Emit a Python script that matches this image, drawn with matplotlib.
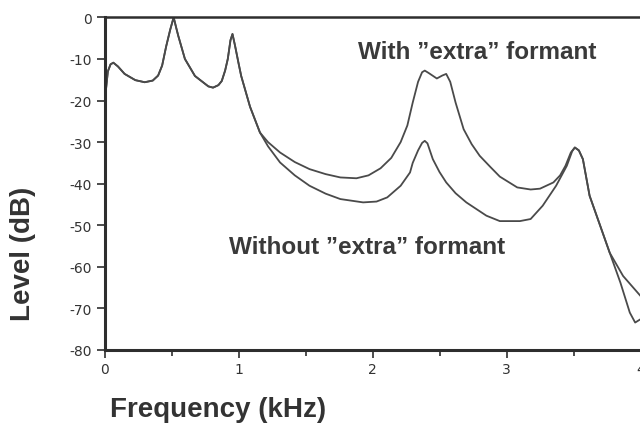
import numpy as np
import matplotlib
matplotlib.use('Agg')
from matplotlib import pyplot as plt

plt.rcParams['font.family'] = ['Liberation Sans', 'DejaVu Sans']
plt.rcParams['axes.unicode_minus'] = False

# shared low-frequency part of both spectra (kHz, dB)
shared_freq = [0.0, 0.012, 0.025, 0.045, 0.066, 0.10, 0.15, 0.23, 0.30, 0.36, 0.40,
               0.43, 0.46, 0.49, 0.516, 0.535, 0.55, 0.60, 0.675, 0.775, 0.81,
               0.85, 0.875, 0.90, 0.92, 0.94, 0.955, 0.974, 1.0, 1.02, 1.086, 1.16]
shared_level = [-20.5, -17.0, -13.0, -11.3, -10.9, -11.8, -13.6, -15.1, -15.6, -15.2, -14.0,
                -11.6, -7.0, -3.0, 0.0, -2.5, -4.4, -10.0, -14.1, -16.6, -16.9,
                -16.3, -15.3, -12.8, -10.0, -5.5, -4.0, -6.8, -11.0, -14.1, -21.5, -27.7]

with_freq = [1.22, 1.31, 1.42, 1.53, 1.65, 1.76, 1.88, 1.97, 2.06, 2.14, 2.21, 2.26,
             2.30, 2.34, 2.37, 2.39, 2.42, 2.48, 2.52, 2.55, 2.58, 2.62, 2.68, 2.74,
             2.80, 2.88, 2.95, 3.08, 3.18, 3.25, 3.35, 3.40, 3.44, 3.48, 3.51, 3.54,
             3.57, 3.62, 3.70, 3.77, 3.87, 4.0]
with_level = [-30.0, -32.5, -34.8, -36.5, -37.7, -38.5, -38.7, -38.0, -36.3, -33.8, -30.0, -26.0,
              -20.5, -15.5, -13.2, -12.8, -13.4, -14.7, -14.0, -13.6, -15.5, -20.5, -26.9, -30.5,
              -33.3, -36.0, -38.3, -40.9, -41.4, -41.2, -39.7, -38.0, -35.7, -32.5, -31.3, -32.0,
              -34.1, -42.9, -50.2, -56.6, -62.2, -67.0]

without_freq = [1.22, 1.31, 1.42, 1.53, 1.65, 1.76, 1.93, 2.03, 2.11, 2.21, 2.28, 2.30,
                2.34, 2.37, 2.39, 2.41, 2.45, 2.50, 2.55, 2.62, 2.70, 2.85, 2.95, 3.10,
                3.18, 3.27, 3.37, 3.45, 3.49, 3.51, 3.54, 3.57, 3.62, 3.70, 3.77, 3.85,
                3.92, 3.96, 4.0]
without_level = [-31.0, -34.9, -38.0, -40.5, -42.4, -43.7, -44.5, -44.3, -43.3, -40.5, -37.3, -35.0,
                 -32.0, -30.2, -29.7, -30.3, -34.1, -37.2, -39.7, -42.3, -44.5, -47.7, -49.0, -49.0,
                 -48.5, -45.3, -40.5, -35.7, -32.2, -31.3, -32.0, -34.1, -42.9, -50.2, -56.6, -63.8,
                 -71.0, -73.4, -72.6]

y_ticks = [0, -10, -20, -30, -40, -50, -60, -70, -80]
x_ticks = [0, 1, 2, 3, 4]


def main():
    fig = plt.figure(figsize=(6.4, 4.27), dpi=100)
    ax = fig.add_axes([0.1633, 0.178, 0.8375, 0.779])

    line_col = '#4a4a4a'
    ax.plot(shared_freq + with_freq, shared_level + with_level, color=line_col, lw=1.3)
    ax.plot(shared_freq + without_freq, shared_level + without_level, color=line_col, lw=1.3)

    ax.set_xlim(0, 4)
    ax.set_ylim(-80, 0)
    ax.set_xticks(x_ticks)
    ax.set_xticks([0.5, 1.5, 2.5, 3.5], minor=True)
    ax.set_yticks(y_ticks)
    ax.set_xticklabels([str(t) for t in x_ticks], family='DejaVu Sans')
    ax.set_yticklabels([str(t) for t in y_ticks], family='DejaVu Sans')

    spine_col = '#2e2e2e'
    for side in ['left', 'bottom']:
        ax.spines[side].set_linewidth(2.2)
        ax.spines[side].set_color(spine_col)
    ax.spines['top'].set_linewidth(1.8)
    ax.spines['top'].set_color(spine_col)
    ax.spines['right'].set_visible(False)

    ax.tick_params(axis='both', which='major', direction='out', length=6, width=1.2,
                   color=spine_col, labelsize=10, labelcolor='#333333', pad=3)
    ax.tick_params(axis='x', which='minor', direction='out', length=4, width=1.2, color=spine_col)

    ax.text(2.78, -8.3, 'With \u201dextra\u201d formant', fontsize=17.5, fontweight='bold',
            color='#3a3a3a', ha='center', va='center')
    ax.text(1.96, -55.2, 'Without \u201dextra\u201d formant', fontsize=17.5, fontweight='bold',
            color='#3a3a3a', ha='center', va='center')

    fig.text(0.036, 0.405, 'Level (dB)', rotation=90, fontsize=20, fontweight='bold',
             color='#333333', ha='center', va='center')
    fig.text(0.341, 0.04, 'Frequency (kHz)', fontsize=20, fontweight='bold',
             color='#333333', ha='center', va='center')

    fig.savefig('out.png', dpi=100)
    plt.close(fig)


if __name__ == '__main__':
    main()
